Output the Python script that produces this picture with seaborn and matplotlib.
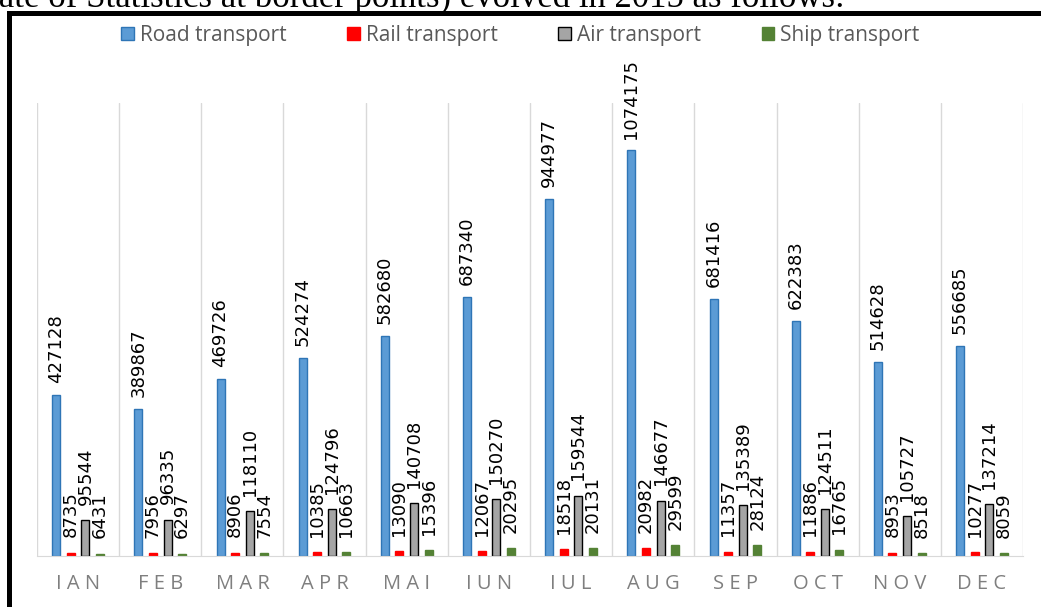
import numpy as np
import pandas as pd
import matplotlib
matplotlib.use("Agg")
import matplotlib.pyplot as plt
from matplotlib.patches import Patch, Rectangle
import seaborn as sns

# data
months = ["IAN", "FEB", "MAR", "APR", "MAI", "IUN", "IUL", "AUG", "SEP", "OCT", "NOV", "DEC"]
modes = ["Road transport", "Rail transport", "Air transport", "Ship transport"]
road = [427128, 389867, 469726, 524274, 582680, 687340, 944977, 1074175, 681416, 622383, 514628, 556685]
rail = [8735, 7956, 8906, 10385, 13090, 12067, 18518, 20982, 11357, 11886, 8953, 10277]
air = [95544, 96335, 118110, 124796, 140708, 150270, 159544, 146677, 135389, 124511, 105727, 137214]
ship = [6431, 6297, 7554, 10663, 15396, 20295, 20131, 29599, 28124, 16765, 8518, 8059]

fills = ["#5B9BD5", "#FF0000", "#A5A5A5", "#548235"]
edges = ["#2E75B6", "#FF0000", "#000000", "#548235"]

series = [road, rail, air, ship]
df = pd.DataFrame({
    "month": months * len(modes),
    "mode": np.repeat(modes, len(months)),
    "value": np.concatenate(series),
})

sns.set_style("white")
plt.rcParams["font.family"] = ["DejaVu Sans"]

fig = plt.figure(figsize=(10.41, 6.07), dpi=100)
ax = fig.add_axes([37 / 1041, 51 / 607, 986 / 1041, 453 / 607])

sns.barplot(data=df, x="month", y="value", hue="mode", order=months, hue_order=modes,
            palette=fills, saturation=1, width=0.71, gap=0.45, errorbar=None,
            legend=False, ax=ax)

for i, cont in enumerate(ax.containers):
    for bar in cont:
        bar.set_edgecolor(edges[i])
        bar.set_linewidth(1.0)
    pad = 8.5 if i == 0 else 11
    ax.bar_label(cont, labels=[str(v) for v in series[i]], rotation=90, padding=pad,
                 fontsize=13, color="black")

ax.set_ylim(0, 1200000)
ax.set_xlim(-0.5, 11.5)
ax.set_yticks([])
ax.set_xlabel("")
ax.set_ylabel("")
ax.set_xticks(range(len(months)))
ax.set_xticklabels([" ".join(m) for m in months], family="Open Sans", fontsize=14.5,
                   color="#7F7F7F")
ax.set_xticks(np.arange(-0.5, 12, 1), minor=True)
ax.tick_params(which="both", length=0)
ax.tick_params(axis="x", pad=13)
ax.grid(which="minor", axis="x", color="#D9D9D9", lw=1)
for s in ["left", "right", "top"]:
    ax.spines[s].set_visible(False)
ax.spines["bottom"].set_color("#D9D9D9")
ax.set_axisbelow(True)

handles = [Patch(facecolor=fills[i], edgecolor=edges[i], lw=1) for i in range(len(modes))]
fig.legend(handles, modes, loc="center", bbox_to_anchor=(0.5, 1 - 35 / 607), ncol=4,
           frameon=False, prop={"family": "Open Sans", "size": 15}, labelcolor="#595959",
           handlelength=0.6, handleheight=0.6, handletextpad=0.3, columnspacing=2.9)

# black frame of the embedded chart (top and left edges only visible)
fig.add_artist(Rectangle((8.5 / 1041, -0.1), 1.2, 1 - 13 / 607 + 0.1,
                         transform=fig.transFigure, fill=False, ec="black", lw=3.6))

# cut-off sentence above the chart
fig.text(845 / 1041, 1 - 7 / 607, "tate of Statistics at border points) evolved in 2015 as follows:",
         ha="right", va="baseline", family="Liberation Serif", fontsize=25, color="black")

fig.savefig("out.png", dpi=100, facecolor="white")
